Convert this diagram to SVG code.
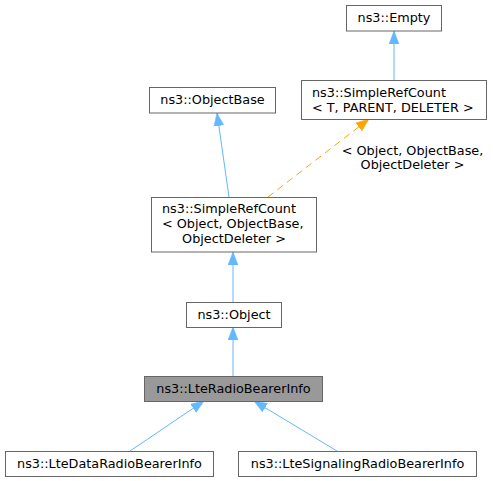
<svg xmlns="http://www.w3.org/2000/svg" width="493" height="481" viewBox="0 0 493 481">
<style>
  .box { fill: #ffffff; stroke: #666666; stroke-width: 1; }
  .hl { fill: #999999; stroke: #666666; stroke-width: 1; }
  text { font-family: "DejaVu Sans", sans-serif; font-size: 12.8px; fill: #000000; }
  .c { text-anchor: middle; }
  .edge { fill: none; stroke: #63b8ff; stroke-width: 1; marker-end: url(#ab); }
  .tmpl { fill: none; stroke: #ffa500; stroke-width: 1; stroke-dasharray: 7,5; marker-end: url(#ao); }
</style>
<defs>
  <marker id="ab" markerUnits="userSpaceOnUse" markerWidth="14" markerHeight="11" refX="13" refY="5" viewBox="0 0 14 10" orient="auto">
    <path d="M0,0 L13,5 L0,10 z" fill="#63b8ff" stroke="#63b8ff" stroke-width="0.5"/>
  </marker>
  <marker id="ao" markerUnits="userSpaceOnUse" markerWidth="14" markerHeight="11" refX="13" refY="5" viewBox="0 0 14 10" orient="auto">
    <path d="M0,0 L13,5 L0,10 z" fill="#ffa500" stroke="#ffa500" stroke-width="0.5"/>
  </marker>
</defs>
<rect width="493" height="481" fill="#ffffff"/>
<g id="connectors">
  <path class="edge" d="M394,80 L394,31"/>
  <path class="edge" d="M229,197 L217,113"/>
  <path class="tmpl" d="M268,197 L369,119"/>
  <path class="edge" d="M233,302 L233,252"/>
  <path class="edge" d="M233,376 L233,327"/>
  <path class="edge" d="M130,451 L204,401"/>
  <path class="edge" d="M337,451 L254,401"/>
  <text class="c" x="412.5" y="155">&lt; Object, ObjectBase,</text>
  <text class="c" x="412.5" y="169">ObjectDeleter &gt;</text>
</g>
<g id="node-empty">
  <rect class="box" x="346.5" y="5.5" width="95" height="25.5"/>
  <text class="c" x="394" y="22">ns3::Empty</text>
</g>
<g id="node-simplerefcount-t">
  <rect class="box" x="301.5" y="80.5" width="185" height="39"/>
  <text x="312" y="96.5">ns3::SimpleRefCount</text>
  <text x="312" y="111.5">&lt; T, PARENT, DELETER &gt;</text>
</g>
<g id="node-objectbase">
  <rect class="box" x="149.5" y="87.5" width="126" height="25.5"/>
  <text class="c" x="212.5" y="104">ns3::ObjectBase</text>
</g>
<g id="node-simplerefcount-object">
  <rect class="box" x="151.5" y="197.5" width="165" height="54.5"/>
  <text x="162" y="213">ns3::SimpleRefCount</text>
  <text x="162" y="228">&lt; Object, ObjectBase,</text>
  <text class="c" x="234" y="243">ObjectDeleter &gt;</text>
</g>
<g id="node-object">
  <rect class="box" x="186.5" y="302.5" width="95" height="25"/>
  <text class="c" x="234" y="319">ns3::Object</text>
</g>
<g id="node-lteradiobearerinfo">
  <rect class="hl" x="144.5" y="376.5" width="178" height="25"/>
  <text class="c" x="233.5" y="393">ns3::LteRadioBearerInfo</text>
</g>
<g id="node-ltedataradiobearerinfo">
  <rect class="box" x="5.5" y="451.5" width="208" height="25"/>
  <text class="c" x="109.5" y="468">ns3::LteDataRadioBearerInfo</text>
</g>
<g id="node-ltesignalingradiobearerinfo">
  <rect class="box" x="238.5" y="451.5" width="238" height="25"/>
  <text class="c" x="357.5" y="468">ns3::LteSignalingRadioBearerInfo</text>
</g>
</svg>
